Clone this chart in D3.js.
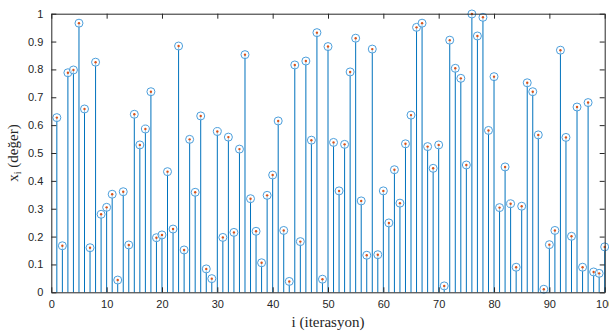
<!DOCTYPE html>
<html>
<head>
<meta charset="utf-8">
<script src="https://cdn.jsdelivr.net/npm/d3@7"></script>
<style>
  body { margin: 0; background: #ffffff; }
  svg { display: block; }
</style>
</head>
<body>
<div id="chart"></div>
<script>
// iteration values (i = 1..100)
const values = [
  0.627, 0.167, 0.788, 0.798, 0.966, 0.658, 0.160, 0.826, 0.280, 0.305,
  0.352, 0.044, 0.361, 0.170, 0.639, 0.529, 0.586, 0.720, 0.196, 0.206,
  0.433, 0.227, 0.884, 0.152, 0.549, 0.359, 0.633, 0.084, 0.049, 0.577,
  0.197, 0.557, 0.215, 0.514, 0.853, 0.336, 0.219, 0.106, 0.348, 0.421,
  0.615, 0.222, 0.039, 0.816, 0.182, 0.830, 0.546, 0.932, 0.047, 0.882,
  0.538, 0.364, 0.531, 0.791, 0.912, 0.328, 0.133, 0.873, 0.135, 0.364,
  0.249, 0.440, 0.320, 0.533, 0.636, 0.951, 0.966, 0.523, 0.445, 0.529,
  0.023, 0.905, 0.804, 0.768, 0.457, 0.999, 0.920, 0.987, 0.581, 0.774,
  0.304, 0.450, 0.318, 0.090, 0.309, 0.752, 0.720, 0.565, 0.011, 0.171,
  0.222, 0.869, 0.556, 0.201, 0.665, 0.090, 0.681, 0.073, 0.068, 0.163
];
const iterations = values.map((v, i) => i + 1);
const xTicks = [0, 10, 20, 30, 40, 50, 60, 70, 80, 90, 100];
const yTicks = [0, 0.1, 0.2, 0.3, 0.4, 0.5, 0.6, 0.7, 0.8, 0.9, 1];

const width = 609;
const height = 332;
const margin = { top: 13.7, right: 4.3, bottom: 39.7, left: 51.3 };
const innerW = width - margin.left - margin.right;
const innerH = height - margin.top - margin.bottom;

const axisColor = '#262626';
const stemColor = '#0072BD';

const svg = d3.select('#chart')
  .append('svg')
  .attr('width', width)
  .attr('height', height)
  .append('g')
  .attr('transform', `translate(${margin.left}, ${margin.top})`);

const x = d3.scaleLinear().domain([0, 100]).range([0, innerW]);
const y = d3.scaleLinear().domain([0, 1]).range([innerH, 0]);

const fmtY = d => (d === 0 || d === 1) ? String(d) : d.toFixed(1);

// stems
svg.selectAll('line.stem')
  .data(values)
  .enter()
  .append('line')
  .attr('class', 'stem')
  .attr('x1', (d, i) => x(iterations[i]))
  .attr('x2', (d, i) => x(iterations[i]))
  .attr('y1', y(0))
  .attr('y2', d => y(d))
  .attr('stroke', stemColor)
  .attr('stroke-width', 1);

// open circle markers
svg.selectAll('circle.mark')
  .data(values)
  .enter()
  .append('circle')
  .attr('class', 'mark')
  .attr('cx', (d, i) => x(iterations[i]))
  .attr('cy', d => y(d))
  .attr('r', 4)
  .attr('fill', '#ffffff')
  .attr('fill-opacity', 0.6)
  .attr('stroke', '#4c9fdc')
  .attr('stroke-width', 1);

// orange centre dots
svg.selectAll('circle.dot')
  .data(values)
  .enter()
  .append('circle')
  .attr('class', 'dot')
  .attr('cx', (d, i) => x(iterations[i]))
  .attr('cy', d => y(d))
  .attr('r', 1.2)
  .attr('fill', '#D95319');

// axes (MATLAB style, ticks inside, box on)
const tickLen = 5;

const axisBottomG = svg.append('g')
  .attr('transform', `translate(0, ${innerH})`)
  .call(d3.axisBottom(x).tickValues(xTicks).tickSizeInner(-tickLen).tickSizeOuter(0).tickPadding(8));
const axisTopG = svg.append('g')
  .call(d3.axisTop(x).tickValues(xTicks).tickSizeInner(-tickLen).tickSizeOuter(0).tickFormat(''));
const axisLeftG = svg.append('g')
  .call(d3.axisLeft(y).tickValues(yTicks).tickSizeInner(-tickLen).tickSizeOuter(0).tickPadding(8).tickFormat(fmtY));
const axisRightG = svg.append('g')
  .attr('transform', `translate(${innerW}, 0)`)
  .call(d3.axisRight(y).tickValues(yTicks).tickSizeInner(-tickLen).tickSizeOuter(0).tickFormat(''));

[axisBottomG, axisTopG, axisLeftG, axisRightG].forEach(g => {
  g.select('.domain').attr('stroke', axisColor).attr('stroke-width', 1);
  g.selectAll('.tick line').attr('stroke', axisColor).attr('stroke-width', 1);
  g.selectAll('.tick text')
    .style('font-family', '"Liberation Sans", Arial, sans-serif')
    .style('font-size', '11px')
    .style('fill', axisColor);
});

// axis titles
svg.append('text')
  .attr('x', innerW / 2)
  .attr('y', innerH + 34.5)
  .attr('text-anchor', 'middle')
  .style('font-family', '"Liberation Serif", "Times New Roman", serif')
  .style('font-size', '15px')
  .style('fill', axisColor)
  .text('i (iterasyon)');

const ylab = svg.append('text')
  .attr('transform', `translate(${-33}, ${innerH / 2}) rotate(-90)`)
  .attr('text-anchor', 'middle')
  .style('font-family', '"Liberation Serif", "Times New Roman", serif')
  .style('font-size', '15px')
  .style('fill', axisColor);
ylab.append('tspan').text('x');
ylab.append('tspan').attr('dy', 3).style('font-size', '10px').text('i');
ylab.append('tspan').attr('dy', -3).text(' (değer)');
</script>
</body>
</html>
